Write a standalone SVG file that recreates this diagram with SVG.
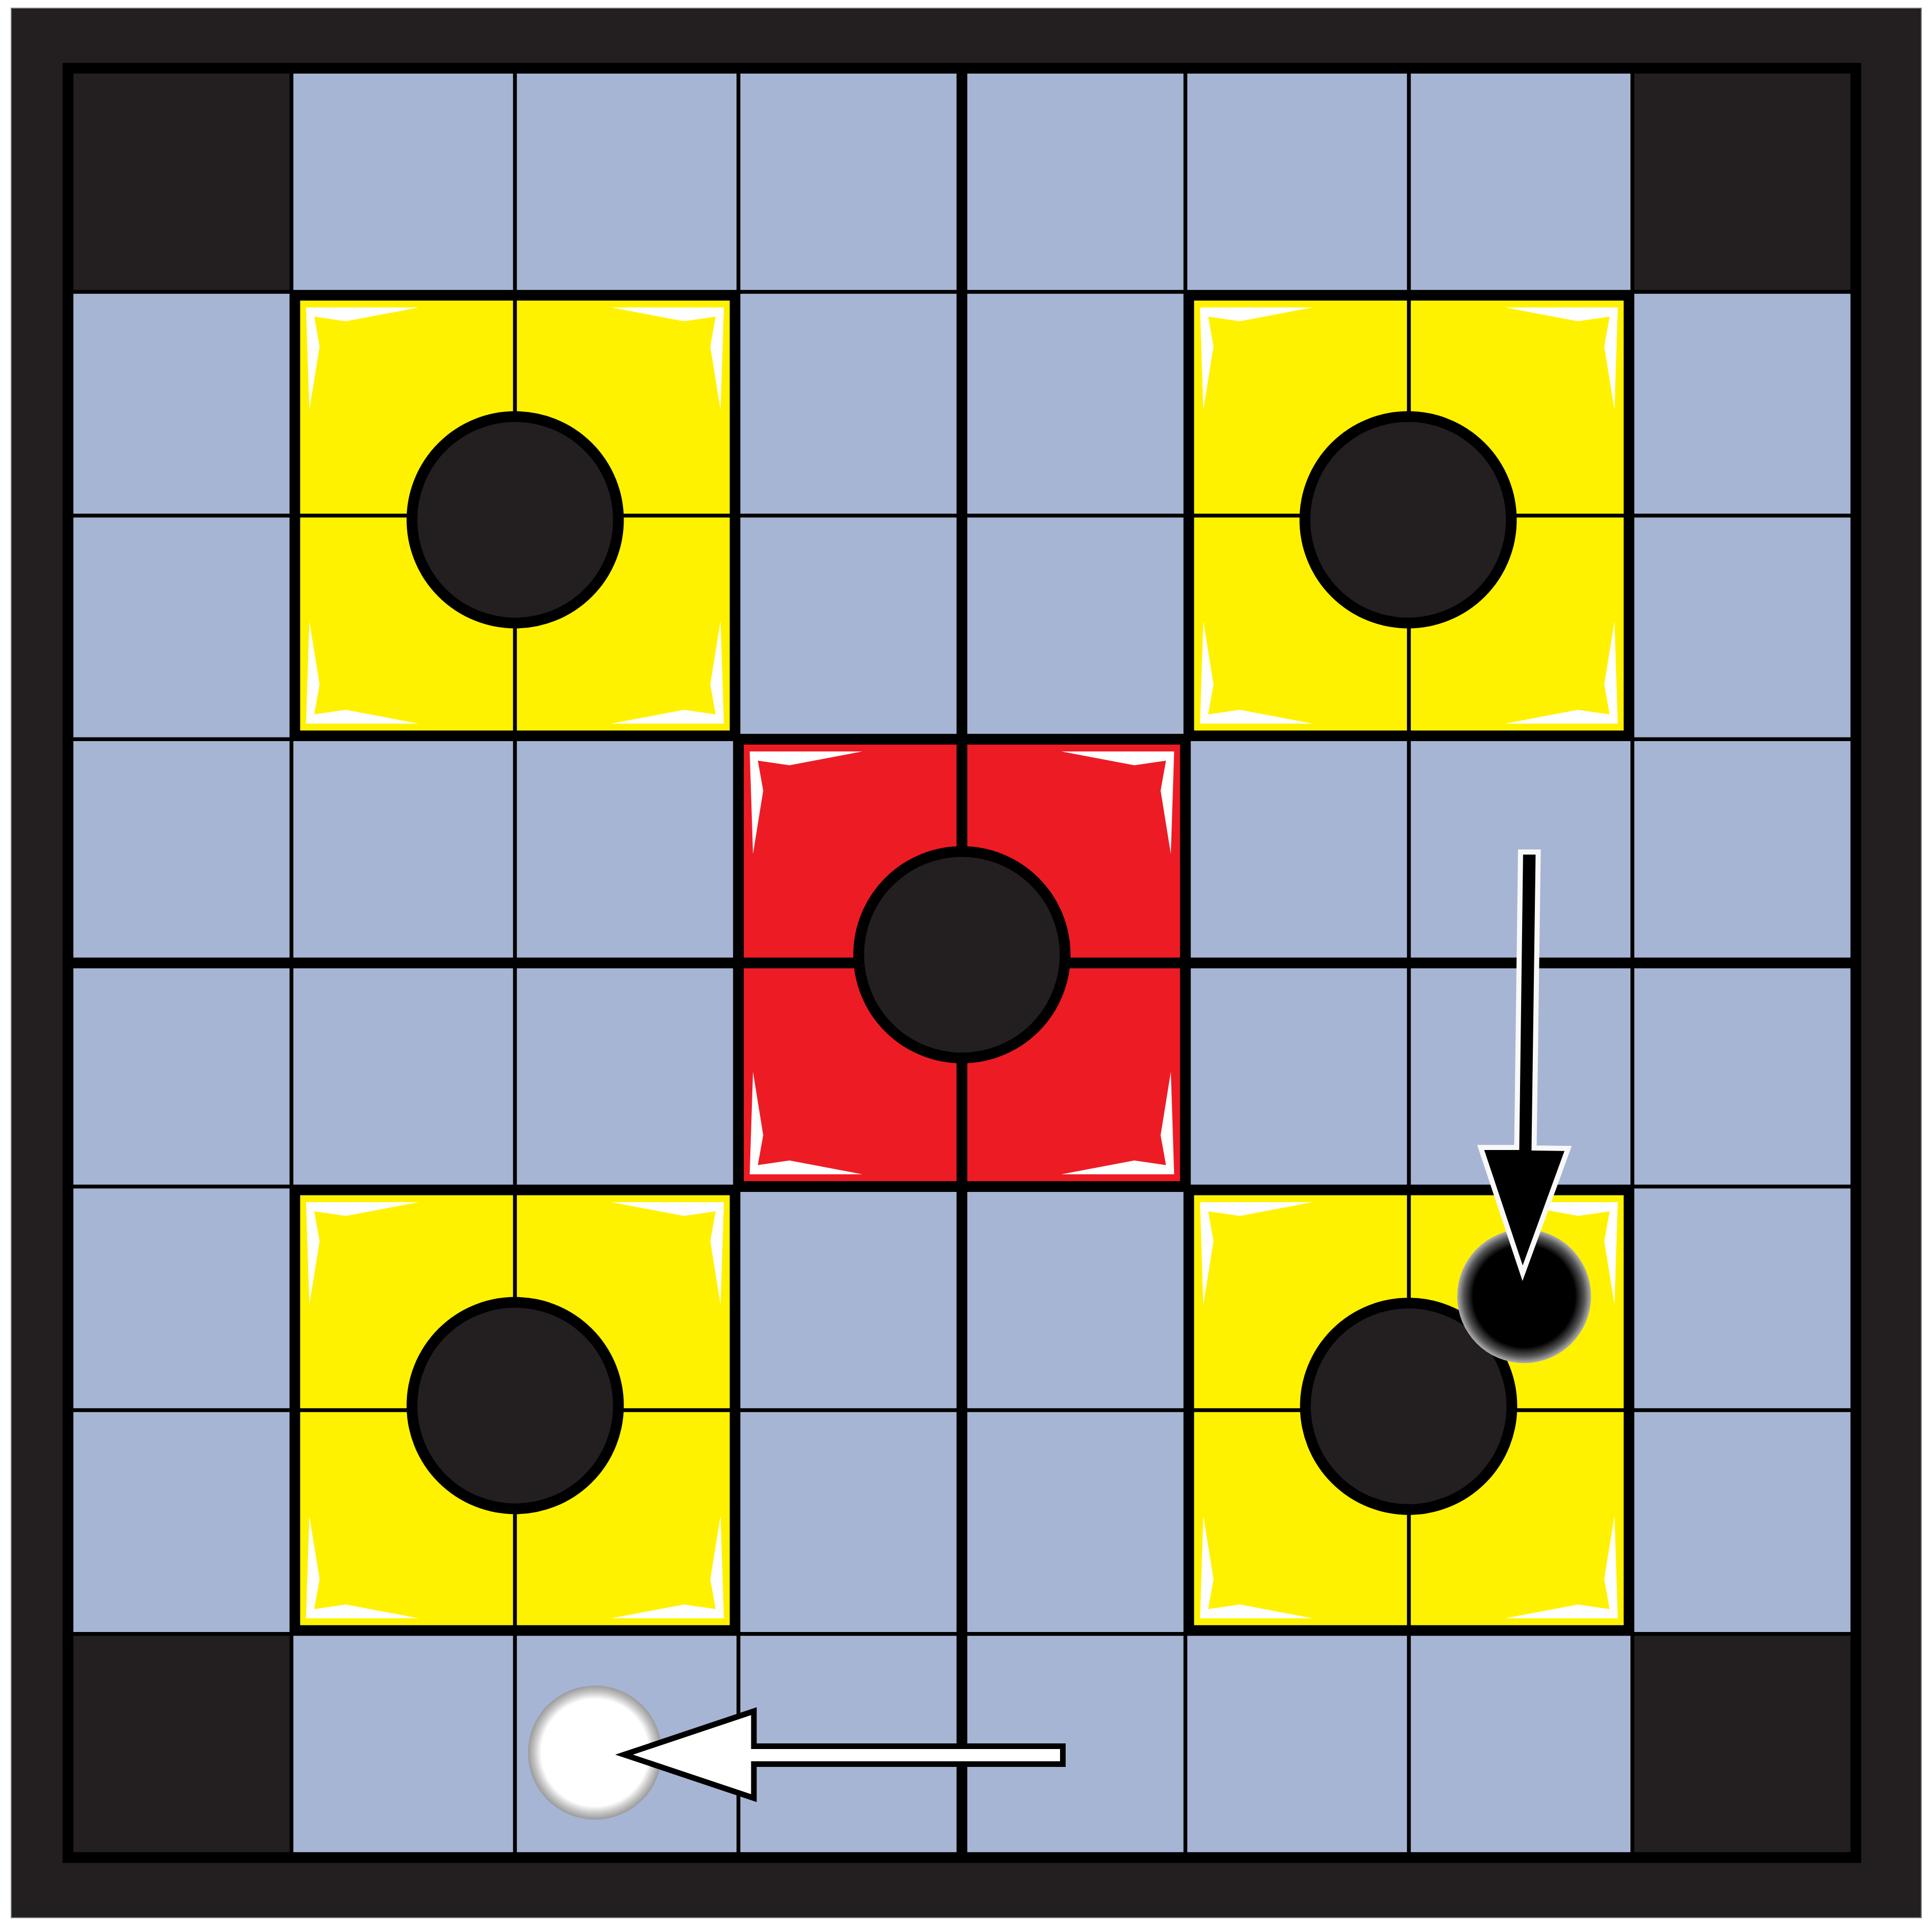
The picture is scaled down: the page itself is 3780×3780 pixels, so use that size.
<svg xmlns="http://www.w3.org/2000/svg" xmlns:xlink="http://www.w3.org/1999/xlink" width="3780" height="3780" viewBox="0 0 3780 3780">
  <style>
    .blue { fill: #a6b5d3; }
    .dark { fill: #231f20; }
    .yellow { fill: #fff200; }
    .red { fill: #ed1c24; }
    .thin { stroke: #000; stroke-width: 7.5; fill: none; }
    .thick { stroke: #000; stroke-width: 21; fill: none; }
    .yborder { stroke: #000; stroke-width: 16; fill: none; }
    .rborder { stroke: #000; stroke-width: 21; fill: none; }
    .deco { fill: #fff; }
    .disc { fill: #231f20; stroke: #000; stroke-width: 21; }
  </style>
  <defs>
    <polygon id="deco" class="deco" points="11.5,13.5 232,13.5 89.5,40.5 27.5,31.5 38,90 18,214"/>
    <radialGradient id="gBlack" cx="0.5" cy="0.5" r="0.5">
      <stop offset="0" stop-color="#000"/>
      <stop offset="0.76" stop-color="#000"/>
      <stop offset="0.9" stop-color="#555"/>
      <stop offset="1" stop-color="#b0b0b0"/>
    </radialGradient>
    <radialGradient id="gWhite" cx="0.5" cy="0.5" r="0.5">
      <stop offset="0" stop-color="#fff"/>
      <stop offset="0.8" stop-color="#fff"/>
      <stop offset="0.9" stop-color="#c8c8c8"/>
      <stop offset="1" stop-color="#9a9a9a"/>
    </radialGradient>
  </defs>

  <!-- frame -->
  <rect id="frame" x="22" y="16" width="3737" height="3736" class="dark" stroke="#7a7a7a" stroke-width="2"/>

  <g id="board">
    <rect x="133" y="133.5" width="3498" height="3500.8" class="blue"/>
    <!-- dark corner cells -->
    <rect x="133" y="133.5" width="437.25" height="437.6" class="dark"/>
    <rect x="3193.75" y="133.5" width="437.25" height="437.6" class="dark"/>
    <rect x="133" y="3196.7" width="437.25" height="437.6" class="dark"/>
    <rect x="3193.75" y="3196.7" width="437.25" height="437.6" class="dark"/>
  </g>

  <g id="square-fills">
    <rect x="570.25" y="571.1" width="874.5" height="875.2" class="yellow"/>
    <rect x="2319.25" y="571.1" width="874.5" height="875.2" class="yellow"/>
    <rect x="570.25" y="2321.5" width="874.5" height="875.2" class="yellow"/>
    <rect x="2319.25" y="2321.5" width="874.5" height="875.2" class="yellow"/>
    <rect x="1444.75" y="1446.3" width="874.5" height="875.2" class="red"/>
  </g>

  <g id="grid-lines">
    <line class="thin" x1="570.25" y1="133.5" x2="570.25" y2="3634.3"/>
    <line class="thin" x1="1007.5" y1="133.5" x2="1007.5" y2="3634.3"/>
    <line class="thin" x1="1444.75" y1="133.5" x2="1444.75" y2="3634.3"/>
    <line class="thin" x1="2319.25" y1="133.5" x2="2319.25" y2="3634.3"/>
    <line class="thin" x1="2756.5" y1="133.5" x2="2756.5" y2="3634.3"/>
    <line class="thin" x1="3193.75" y1="133.5" x2="3193.75" y2="3634.3"/>
    <line class="thin" x1="133" y1="571.1" x2="3631" y2="571.1"/>
    <line class="thin" x1="133" y1="1008.7" x2="3631" y2="1008.7"/>
    <line class="thin" x1="133" y1="1446.3" x2="3631" y2="1446.3"/>
    <line class="thin" x1="133" y1="2321.5" x2="3631" y2="2321.5"/>
    <line class="thin" x1="133" y1="2759.1" x2="3631" y2="2759.1"/>
    <line class="thin" x1="133" y1="3196.7" x2="3631" y2="3196.7"/>
    <line class="thick" x1="1882" y1="133.5" x2="1882" y2="3634.3"/>
    <line class="thick" x1="133" y1="1883.9" x2="3631" y2="1883.9"/>
  </g>

  <g id="yellow-square-tl">
    <rect x="579.25" y="580.1" width="856.5" height="857.2" class="yborder"/>
    <use xlink:href="#deco" transform="translate(587.25,588.1)"/>
    <use xlink:href="#deco" transform="translate(1427.75,588.1) scale(-1,1)"/>
    <use xlink:href="#deco" transform="translate(587.25,1429.3) scale(1,-1)"/>
    <use xlink:href="#deco" transform="translate(1427.75,1429.3) scale(-1,-1)"/>
    <circle cx="1008" cy="1017" r="202" class="disc"/>
  </g>
  <g id="yellow-square-tr">
    <rect x="2328.25" y="580.1" width="856.5" height="857.2" class="yborder"/>
    <use xlink:href="#deco" transform="translate(2336.25,588.1)"/>
    <use xlink:href="#deco" transform="translate(3176.75,588.1) scale(-1,1)"/>
    <use xlink:href="#deco" transform="translate(2336.25,1429.3) scale(1,-1)"/>
    <use xlink:href="#deco" transform="translate(3176.75,1429.3) scale(-1,-1)"/>
    <circle cx="2755" cy="1017" r="202" class="disc"/>
  </g>
  <g id="yellow-square-bl">
    <rect x="579.25" y="2330.5" width="856.5" height="857.2" class="yborder"/>
    <use xlink:href="#deco" transform="translate(587.25,2338.5)"/>
    <use xlink:href="#deco" transform="translate(1427.75,2338.5) scale(-1,1)"/>
    <use xlink:href="#deco" transform="translate(587.25,3179.7) scale(1,-1)"/>
    <use xlink:href="#deco" transform="translate(1427.75,3179.7) scale(-1,-1)"/>
    <circle cx="1008" cy="2750" r="202" class="disc"/>
  </g>
  <g id="yellow-square-br">
    <rect x="2328.25" y="2330.5" width="856.5" height="857.2" class="yborder"/>
    <use xlink:href="#deco" transform="translate(2336.25,2338.5)"/>
    <use xlink:href="#deco" transform="translate(3176.75,2338.5) scale(-1,1)"/>
    <use xlink:href="#deco" transform="translate(2336.25,3179.7) scale(1,-1)"/>
    <use xlink:href="#deco" transform="translate(3176.75,3179.7) scale(-1,-1)"/>
    <circle cx="2756" cy="2751.5" r="202" class="disc"/>
  </g>
  <g id="red-square">
    <rect x="1444.75" y="1446.3" width="874.5" height="875.2" class="rborder"/>
    <use xlink:href="#deco" transform="translate(1455.25,1456.8)"/>
    <use xlink:href="#deco" transform="translate(2308.75,1456.8) scale(-1,1)"/>
    <use xlink:href="#deco" transform="translate(1455.25,2311) scale(1,-1)"/>
    <use xlink:href="#deco" transform="translate(2308.75,2311) scale(-1,-1)"/>
    <circle cx="1882" cy="1868" r="202" class="disc"/>
  </g>

  <rect id="board-border" x="133" y="133.5" width="3498" height="3500.8" class="thick"/>

  <g id="black-piece">
    <circle cx="2982" cy="2536" r="131" fill="url(#gBlack)"/>
  </g>
  <g id="white-piece">
    <circle cx="1164" cy="3429" r="131" fill="url(#gWhite)"/>
  </g>

  <g id="connectors">
    <polygon id="arrow-white" points="1221,3433 1475,3348 1475,3416.5 2079.5,3416.5 2079.5,3451.5 1475,3451.5 1475,3518" fill="#fff" stroke="#000" stroke-width="11" stroke-miterlimit="6"/>
    <polygon id="arrow-black" points="2975,1667 3009.5,1667 3001.5,2246 3068,2247 2979,2491 2897,2245 2967.5,2245" fill="#000" stroke="#f8f8f8" stroke-width="10" stroke-miterlimit="6"/>
  </g>
</svg>
